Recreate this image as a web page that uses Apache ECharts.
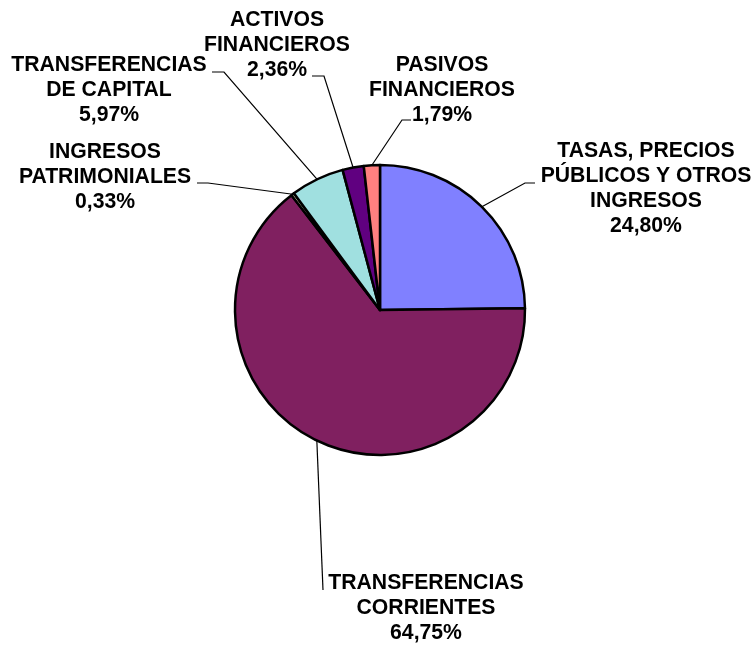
<!DOCTYPE html>
<html>
<head>
<meta charset="utf-8">
<script src="https://cdn.jsdelivr.net/npm/echarts@6/dist/echarts.min.js"></script>
<style>
  html, body { margin: 0; padding: 0; background: #fff; }
  #main { width: 756px; height: 645px; }
</style>
</head>
<body>
<div id="main"></div>
<script>
var categories = [
  'TASAS, PRECIOS\nPÚBLICOS Y OTROS\nINGRESOS',
  'TRANSFERENCIAS\nCORRIENTES',
  'INGRESOS\nPATRIMONIALES',
  'TRANSFERENCIAS\nDE CAPITAL',
  'ACTIVOS\nFINANCIEROS',
  'PASIVOS\nFINANCIEROS'
]
var values = [24.80, 64.75, 0.33, 5.97, 2.36, 1.79]
var colors = ['#8080FF', '#802060', '#FFFFCC', '#A0E0E0', '#600080', '#FF8080']

// where each label sits and where its leader line bends / ends
var labelPos = [
  { x: 646, y: 189, elbow: [525, 183], end: [535, 183] },
  { x: 426, y: 608, elbow: [323, 590], end: [323, 590] },
  { x: 105, y: 177, elbow: [208, 183], end: [197, 183] },
  { x: 109, y: 90, elbow: [224, 72], end: [212, 72] },
  { x: 277, y: 45, elbow: [324, 76], end: [312, 76] },
  { x: 442, y: 90, elbow: [402, 120], end: [411, 120] }
]

function main() {
  var myChart = echarts.init(document.getElementById('main'))
  var data = categories.map(function (c, i) {
    return { name: c, value: values[i], itemStyle: { color: colors[i] } }
  })
  var option = {
    animation: false,
    series: [{
      type: 'pie',
      center: [380, 310],
      radius: 145,
      startAngle: 90,
      avoidLabelOverlap: false,
      itemStyle: { borderColor: '#000', borderWidth: 2.5 },
      label: {
        show: true,
        position: 'outside',
        color: '#000',
        fontFamily: 'Liberation Sans, Arial, sans-serif',
        fontWeight: 'bold',
        fontSize: 21.2,
        lineHeight: 25,
        align: 'center',
        formatter: function (p) {
          return p.name + '\n' + p.value.toFixed(2).replace('.', ',') + '%'
        }
      },
      labelLine: {
        show: true,
        length: 15,
        length2: 10,
        lineStyle: { color: '#000', width: 1.2 }
      },
      labelLayout: function (params) {
        var p = labelPos[params.dataIndex]
        var start = params.labelLinePoints ? params.labelLinePoints[0] : p.elbow
        return {
          x: p.x,
          y: p.y,
          align: 'center',
          verticalAlign: 'middle',
          labelLinePoints: [start, p.elbow, p.end]
        }
      },
      emphasis: { disabled: true },
      data: data
    }]
  }
  myChart.setOption(option)
}

window.onload = main
</script>
</body>
</html>
